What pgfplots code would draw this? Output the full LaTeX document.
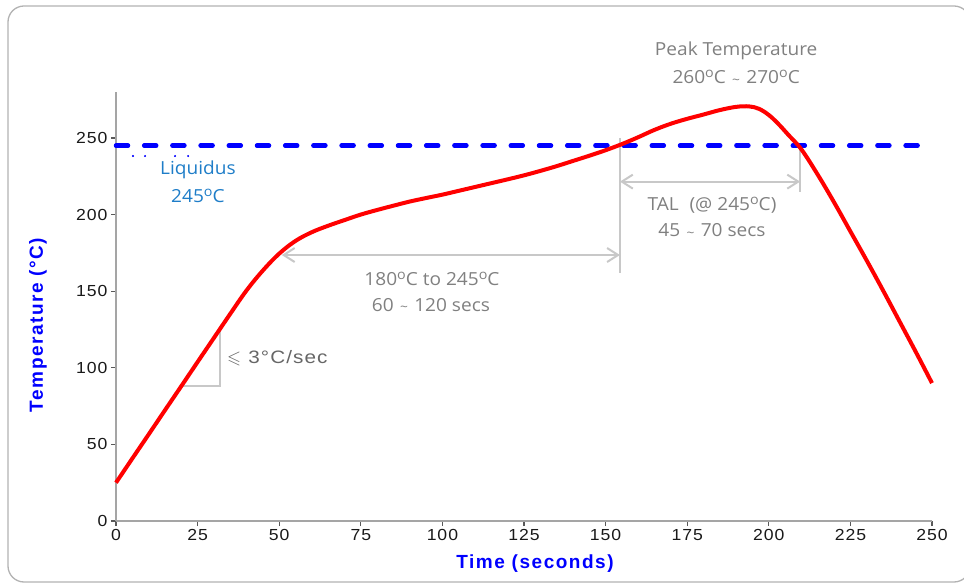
\documentclass[border=0pt]{standalone}
\usepackage{fontspec}
\usepackage{amssymb}
\usepackage{pgfplots}
\pgfplotsset{compat=1.18}
\usetikzlibrary{arrows.meta}
\setmainfont{Liberation Sans}
\newfontfamily\annfont[FakeStretch=1.06]{Open Sans}
\newfontfamily\tickfont[FakeStretch=1.1,LetterSpace=6]{Liberation Sans}
\newfontfamily\slopefont[FakeStretch=1.15,LetterSpace=6]{Liberation Sans}
\newfontfamily\labfont[LetterSpace=8]{Liberation Sans}
\definecolor{curvered}{RGB}{255,0,0}
\definecolor{liqblue}{RGB}{0,0,255}
\definecolor{annblue}{RGB}{30,125,200}
\definecolor{anngray}{RGB}{128,128,128}
\definecolor{arrgray}{RGB}{200,200,200}
\definecolor{axgray}{RGB}{165,165,165}
\newcommand{\dgo}{\raisebox{0.33em}{\fontsize{13.5}{13.5}\selectfont o}}
\newcommand{\tld}{\hspace{0.35em}\raisebox{-0.05em}{\fontsize{13}{13}\selectfont\textasciitilde}\hspace{0.35em}}
\pgfplotstableread{
x y
0 25
5 40.8
10 56.5
15 72.3
20 88
25 103.8
30 119.5
35 135.2
40 150.5
45 163.5
50 174.5
55 182.8
60 188.5
65 192.7
70 196.4
75 200
80 203
85 205.8
90 208.5
95 210.8
100 213
105 215.5
110 218
115 220.5
120 223
125 225.6
130 228.5
135 231.6
140 235
145 238.4
150 242
155 246
160 250.5
165 255.3
170 259.3
175 262.5
180 265.3
185 268.2
190 270.3
194 270.6
197 269
200 265
203 259
206 252
210 242.5
215 226
220 208
225 189
230 170
235 150.5
240 130.5
245 110.5
250 90
}\profile
\begin{document}
\begin{tikzpicture}[x=1pt,y=1pt]
\useasboundingbox (0,0) rectangle (964,584);
\draw[color=black!30, line width=1.3pt, rounded corners=16pt] (8,2) rectangle (970,578);
\begin{axis}[
 at={(116pt,63pt)}, anchor=south west,
 scale only axis, width=816pt, height=429pt,
 xmin=0, xmax=250, ymin=0, ymax=280,
 axis x line*=bottom, axis y line*=left,
 axis line style={axgray, line width=1.3pt},
 xtick={0,25,...,250}, ytick={0,50,...,250},
 tick align=outside, major tick length=5pt,
 tick style={black!65, line width=1.2pt},
 /pgf/number format/assume math mode=true,
 ticklabel style={font=\tickfont\fontsize{16}{16}\selectfont, text=black!90},
 xlabel={Time (seconds)}, ylabel={Temperature (°C)},
 label style={font=\labfont\bfseries\fontsize{19}{19}\selectfont, text=liqblue},
 xlabel style={at={(axis description cs:0.5135,-0.1002)}, anchor=center},
 ylabel style={at={(axis description cs:-0.0956,0.4569)}, anchor=center},
 clip=false,
]
% gray annotation lines
\draw[arrgray, line width=2pt] (axis cs:154.4,250) -- (axis cs:154.4,162);
\draw[arrgray, line width=2pt] (axis cs:209.6,244.8) -- (axis cs:209.6,215);
\draw[arrgray, line width=2pt] (axis cs:20.2,88) -- (axis cs:32,88) -- (axis cs:32,124.7);
\draw[arrgray, line width=2pt, {Straight Barb[length=11pt,width=14pt]}-{Straight Barb[length=11pt,width=14pt]}] (axis cs:50.8,173.6) -- (axis cs:154.4,173.6);
\draw[arrgray, line width=2pt, {Straight Barb[length=11pt,width=14pt]}-{Straight Barb[length=11pt,width=14pt]}] (axis cs:154.4,221.5) -- (axis cs:209.6,221.5);
% liquidus
\addplot[liqblue, line width=4.5pt, dash pattern=on 12pt off 16.2pt, line cap=round] coordinates {(0,245) (250,245)};
\addplot[liqblue, only marks, mark=*, mark size=0.8pt] coordinates {(5.2,238.2) (8.9,238.2) (18.1,238.2) (22.1,238.2)};
% profile
\addplot[curvered, line width=4pt, smooth, tension=0.6] table[x=x,y=y] {\profile};
% texts
\node[font=\annfont\fontsize{18}{20}\selectfont, text=annblue] at (axis cs:25.1,229.1) {Liquidus};
\node[font=\annfont\fontsize{18}{20}\selectfont, text=annblue] at (axis cs:25.1,212.1) {245\dgo C};
\node[font=\annfont\fontsize{18}{20}\selectfont, text=anngray] at (axis cs:190,306.8) {Peak Temperature};
\node[font=\annfont\fontsize{18}{20}\selectfont, text=anngray] at (axis cs:190,289.8) {260\dgo C\tld 270\dgo C};
\node[font=\annfont\fontsize{18}{20}\selectfont, text=anngray] at (axis cs:182.6,206.3) {TAL\hspace{0.6em}(@ 245\dgo C)};
\node[font=\annfont\fontsize{18}{20}\selectfont, text=anngray] at (axis cs:182.6,189.9) {45\tld 70 secs};
\node[font=\annfont\fontsize{18}{20}\selectfont, text=anngray] at (axis cs:96.8,158.0) {180\dgo C to 245\dgo C};
\node[font=\annfont\fontsize{18}{20}\selectfont, text=anngray] at (axis cs:96.5,141.0) {60\tld 120 secs};
\node[font=\slopefont\fontsize{18}{20}\selectfont, text=black!60, anchor=west, inner sep=0pt] at (axis cs:34.0,106.4) {$\leqslant$\hspace{0.4em}3°C/sec};
\end{axis}
\end{tikzpicture}
\end{document}
